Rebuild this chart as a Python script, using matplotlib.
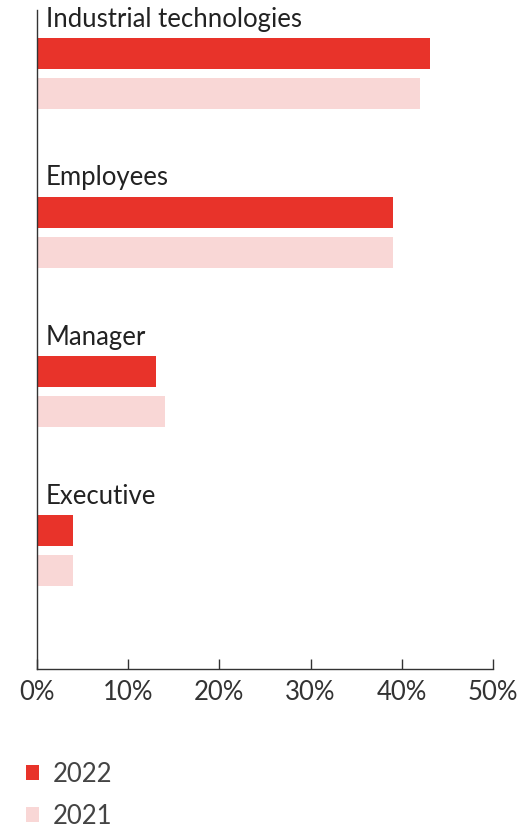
import matplotlib
matplotlib.use("Agg")
import matplotlib.pyplot as plt
from matplotlib.patches import Patch
import numpy as np

categories = ["Industrial technologies", "Employees", "Manager", "Executive"]
values_2022 = [43.1, 39.0, 13.0, 4.0]
values_2021 = [42.0, 39.0, 14.0, 4.0]
series_labels = ["2022", "2021"]
tick_values = [0, 10, 20, 30, 40, 50]
tick_labels = ["0%", "10%", "20%", "30%", "40%", "50%"]

red = "#E8332A"
pink = "#F9D7D6"
text_color = "#222222"

plt.rcParams['font.family'] = ['Lato', 'DejaVu Sans']

fig = plt.figure(figsize=(5.21, 8.31), dpi=100)
ax = fig.add_axes([37 / 521, 1 - 669 / 831, (493 - 37) / 521, (669 - 10) / 831])

y = np.arange(len(categories))
offset = 40 / 159
bar_h = 31 / 159

ax.barh(y, values_2022, height=bar_h, color=red, align='center')
ax.barh(y + offset, values_2021, height=bar_h, color=pink, align='center')

# category labels above each group
for i, name in enumerate(categories):
    ax.text(1.0, i - 34.5 / 159, name, va='center', ha='left',
            fontsize=18.5, color=text_color)

ax.set_xlim(0, 50)
ax.set_ylim(615.5 / 159, -43.5 / 159)

ax.set_xticks(tick_values)
ax.set_xticklabels(tick_labels)
ax.set_yticks([])
ax.tick_params(axis='x', direction='in', length=7, width=1, pad=8,
               labelsize=18.5, colors='#333333')

for side in ['top', 'right']:
    ax.spines[side].set_visible(False)
for side in ['left', 'bottom']:
    ax.spines[side].set_color('#333333')
    ax.spines[side].set_linewidth(1)

handles = [Patch(facecolor=red, edgecolor='none'), Patch(facecolor=pink, edgecolor='none')]
fig.legend(handles, series_labels, loc='upper left', bbox_to_anchor=(0.005, 0.111),
           frameon=False, fontsize=18.5, handlelength=0.5, handleheight=0.5,
           handletextpad=0.55, labelspacing=0.66, labelcolor='#444444')

fig.savefig("out.png", dpi=100)
